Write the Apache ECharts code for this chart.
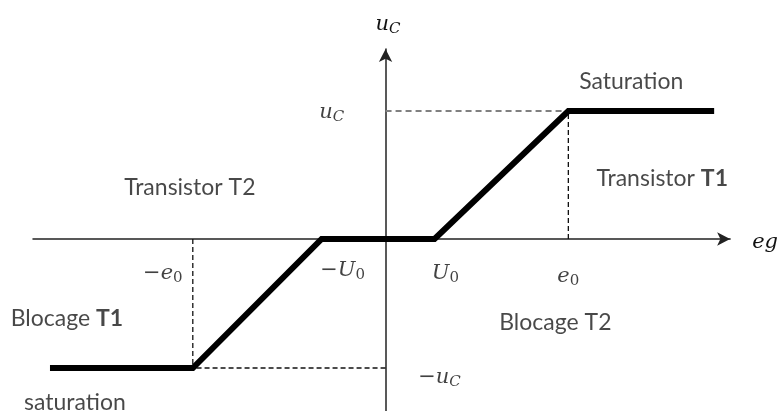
<!DOCTYPE html>
<html>
<head>
<meta charset="utf-8">
<script src="https://cdn.jsdelivr.net/npm/echarts@6/dist/echarts.min.js"></script>
<style>
html,body{margin:0;padding:0;background:#fff;}
#c{width:781px;height:411px;}
</style>
</head>
<body>
<div id="c"></div>
<script>
// Characteristic curve break points (eg, uc)
var curveX = [-33.6, -19.3, -6.4, 4.9, 18.3, 32.9];
var curveY = [-12.9, -12.9, 0, 0, 12.8, 12.8];

// Annotation texts and their anchor positions (data coords)
var noteText = [
  '{m|u}{s|C}',
  '{m|−}{m|e}{n|0}',
  '{m|−U}{n|0}',
  '{m|U}{n|0}',
  '{m|e}{n|0}',
  '{m|−u}{s|C}',
  '{t|Blocage T2}',
  '{t|Blocage }{b|T1}',
  '{t|saturation}',
  '{t|Transistor T2}',
  '{t|Transistor }{b|T1}',
  '{t|Saturation}'
];
var noteX = [-5.4, -22.3, -4.3, 6.0, 18.3, 5.4, 17.0, -31.9, -31.1, -19.6, 27.7, 24.6];
var noteY = [12.6, -3.5, -3.2, -3.5, -3.8, -13.9, -8.4, -8.0, -16.4, 5.1, 6.0, 15.7];

var richStyles = {
  m: {fontFamily: 'DejaVu Serif', fontStyle: 'italic', fontSize: 21, color: '#111'},
  s: {fontFamily: 'DejaVu Serif', fontStyle: 'italic', fontSize: 15, color: '#111', padding: [9, 0, 0, 0]},
  n: {fontFamily: 'DejaVu Serif', fontSize: 15, color: '#111', padding: [9, 0, 0, 0]},
  t: {fontFamily: 'Lato', fontSize: 23, color: '#1a1a1a'},
  b: {fontFamily: 'Lato', fontSize: 23, fontWeight: 'bold', color: '#1a1a1a'}
};

var curve = curveX.map(function (x, i) { return [x, curveY[i]]; });
var dashBlack = {type: [5, 3], color: '#111', width: 1.3};
var dashGray = {type: [6, 4], color: '#808080', width: 2};

function seg(p, q, style) {
  return {type: 'line', data: [p, q], symbol: 'none', lineStyle: style, silent: true, z: 1};
}

var chart = echarts.init(document.getElementById('c'));
chart.setOption({
  animation: false,
  backgroundColor: '#fff',
  grid: {left: 33, right: 50, top: 49, bottom: 0},
  xAxis: {
    type: 'value', min: -35.3, max: 34.5,
    splitLine: {show: false}, axisTick: {show: false}, axisLabel: {show: false},
    axisLine: {onZero: true, symbol: ['none', 'arrow'], symbolSize: [10, 13], lineStyle: {color: '#222', width: 1.5}},
    name: '{m|eg}', nameLocation: 'end', nameGap: 22,
    nameTextStyle: {rich: richStyles, padding: [8, 0, 0, 0]}
  },
  yAxis: {
    type: 'value', min: -17.2, max: 19,
    splitLine: {show: false}, axisTick: {show: false}, axisLabel: {show: false},
    axisLine: {onZero: true, symbol: ['none', 'arrow'], symbolSize: [10, 13], lineStyle: {color: '#222', width: 1.5}},
    name: '{m|u}{s|C}', nameLocation: 'end', nameGap: 12,
    nameTextStyle: {rich: richStyles, align: 'left', padding: [0, 0, 0, -10]}
  },
  series: [
    seg([curveX[1], 0], [curveX[1], curveY[1]], dashBlack),
    seg([curveX[4], 0], [curveX[4], curveY[4]], dashBlack),
    seg([0, curveY[1]], [curveX[1], curveY[1]], dashBlack),
    seg([0, curveY[4]], [curveX[4], curveY[4]], dashGray),
    {
      type: 'line', data: curve, symbol: 'none', z: 3,
      lineStyle: {color: '#000', width: 6, cap: 'butt', join: 'miter'}
    },
    {
      type: 'scatter', symbolSize: 0, z: 5, clip: false,
      data: noteX.map(function (x, i) { return [x, noteY[i], noteText[i]]; }),
      label: {
        show: true, position: 'inside', rich: richStyles,
        formatter: function (p) { return p.data[2]; }
      }
    }
  ]
});
</script>
</body>
</html>
